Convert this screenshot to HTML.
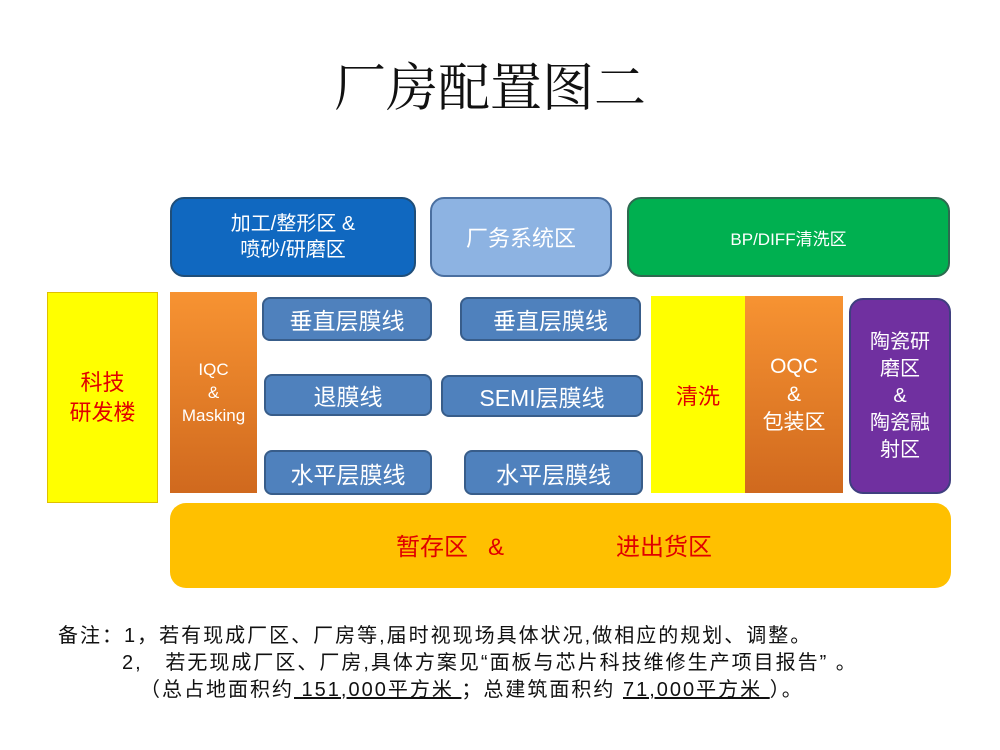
<!DOCTYPE html>
<html><head><meta charset="utf-8"><style>
body{margin:0;width:1000px;height:750px;background:#fff;position:relative;overflow:hidden;font-family:"Liberation Sans","Noto Sans CJK SC",sans-serif}
.b{position:absolute;box-sizing:border-box;display:flex;align-items:center;justify-content:center;text-align:center;color:#fff}
.bl{background:#4f81bd;border:2px solid #385d8a;border-radius:8px;font-size:23px}
.t{position:absolute;white-space:nowrap;font-size:20px;color:#111;letter-spacing:2px}
u{text-decoration:underline}
</style></head><body>
<div class="t" style="left:0;width:980px;text-align:center;top:46px;font-size:52px;letter-spacing:0;font-family:'Liberation Serif','Noto Serif CJK SC',serif">厂房配置图二</div>

<div class="b" style="left:170px;top:197px;width:246px;height:80px;background:#1068c0;border:2px solid #1f4e79;border-radius:14px;font-size:20px;line-height:26px">加工/整形区 &amp;<br>喷砂/研磨区</div>
<div class="b" style="left:430px;top:197px;width:182px;height:80px;background:#8db3e2;border:2px solid #4a6fa0;border-radius:14px;font-size:22px">厂务系统区</div>
<div class="b" style="left:627px;top:197px;width:323px;height:80px;background:#00b050;border:2px solid #2d6a4f;border-radius:14px;font-size:17px">BP/DIFF清洗区</div>

<div class="b" style="left:47px;top:292px;width:111px;height:211px;background:#ffff00;border:1px solid #e0c000;color:#e00000;font-size:22px;line-height:30px">科技<br>研发楼</div>
<div class="b" style="left:170px;top:292px;width:87px;height:201px;background:linear-gradient(#f79332,#d0691e);font-size:17px;line-height:23px">IQC<br>&amp;<br>Masking</div>

<div class="b bl" style="left:262px;top:297px;width:170px;height:44px">垂直层膜线</div>
<div class="b bl" style="left:264px;top:374px;width:168px;height:42px">退膜线</div>
<div class="b bl" style="left:264px;top:450px;width:168px;height:45px">水平层膜线</div>
<div class="b bl" style="left:460px;top:297px;width:181px;height:44px">垂直层膜线</div>
<div class="b bl" style="left:441px;top:375px;width:202px;height:42px">SEMI层膜线</div>
<div class="b bl" style="left:464px;top:450px;width:179px;height:45px">水平层膜线</div>

<div class="b" style="left:651px;top:296px;width:94px;height:197px;background:#ffff00;color:#e00000;font-size:22px">清洗</div>
<div class="b" style="left:745px;top:296px;width:98px;height:197px;background:linear-gradient(#f79332,#d0691e);font-size:21px;line-height:28px">OQC<br>&amp;<br>包装区</div>
<div class="b" style="left:849px;top:298px;width:102px;height:196px;background:#7030a0;border:2px solid #3f3f7f;border-radius:14px;font-size:20px;line-height:27px">陶瓷研<br>磨区<br>&amp;<br>陶瓷融<br>射区</div>

<div class="b" style="left:170px;top:503px;width:781px;height:85px;background:#ffc000;border-radius:16px;color:#e00000;font-size:24px;justify-content:flex-start"><span style="position:absolute;left:226px;top:24px">暂存区 &nbsp; &amp;</span><span style="position:absolute;left:446px;top:24px">进出货区</span></div>

<div class="t" style="left:58px;top:619px">备注：1，若有现成厂区、厂房等,届时视现场具体状况,做相应的规划、调整。</div>
<div class="t" style="left:122px;top:646px">2, &nbsp;&nbsp;若无现成厂区、厂房,具体方案见“面板与芯片科技维修生产项目报告” 。</div>
<div class="t" style="left:140px;top:673px">（总占地面积约<u> 151,000平方米 </u>；总建筑面积约 <u> 71,000平方米 </u>）。</div>
</body></html>
